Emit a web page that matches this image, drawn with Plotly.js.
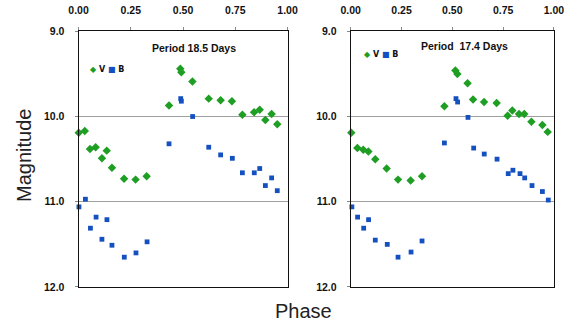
<!DOCTYPE html>
<html>
<head>
<meta charset="utf-8">
<script src="https://cdn.plot.ly/plotly-3.0.1.min.js"></script>
<style>html,body{margin:0;padding:0;background:#fff;}#chart{width:569px;height:324px;}</style>
</head>
<body>
<div id="chart"></div>
<script>
// Left panel: Period 18.5 days
const phaseV1 = [0.001,0.030,0.055,0.082,0.112,0.135,0.160,0.218,0.273,0.326,0.433,0.487,0.492,0.545,0.623,0.680,0.734,0.784,0.840,0.867,0.894,0.924,0.951];
const magV1   = [10.19,10.17,10.38,10.36,10.49,10.40,10.60,10.73,10.74,10.70,9.87,9.44,9.48,9.59,9.79,9.81,9.82,9.98,9.95,9.92,10.04,9.97,10.09];
const phaseB1 = [0.002,0.033,0.057,0.084,0.112,0.136,0.160,0.219,0.275,0.328,0.433,0.489,0.492,0.546,0.623,0.680,0.736,0.784,0.841,0.867,0.894,0.924,0.951];
const magB1   = [11.06,10.97,11.31,11.18,11.44,11.21,11.51,11.65,11.60,11.47,10.32,9.79,9.82,10.00,10.36,10.45,10.49,10.66,10.66,10.61,10.81,10.72,10.87];
// Right panel: Period 17.4 days
const phaseV2 = [0.003,0.033,0.062,0.087,0.121,0.177,0.233,0.295,0.351,0.461,0.515,0.525,0.575,0.602,0.656,0.718,0.772,0.795,0.828,0.854,0.889,0.943,0.969];
const magV2   = [10.19,10.37,10.39,10.41,10.50,10.61,10.74,10.75,10.70,9.88,9.46,9.50,9.61,9.80,9.83,9.84,9.99,9.93,9.97,9.97,10.06,10.10,10.18];
const phaseB2 = [0.006,0.034,0.064,0.088,0.121,0.180,0.233,0.297,0.351,0.461,0.518,0.526,0.577,0.605,0.657,0.720,0.775,0.798,0.833,0.856,0.892,0.943,0.972];
const magB2   = [11.06,11.18,11.31,11.21,11.45,11.50,11.65,11.59,11.46,10.31,9.79,9.83,10.01,10.37,10.44,10.50,10.67,10.63,10.67,10.72,10.81,10.88,10.98];

const xTickVals = [0, 0.25, 0.5, 0.75, 1.0];
const xTickText = ["0.00","0.25","0.50","0.75","1.00"];
const yTickVals = [9, 10, 11, 12];
const yTickText = ["9.0","10.0","11.0","12.0"];
const panelTitles = ["Period 18.5 Days", "Period\u00a0 17.4 Days"];

const GREEN = "#1e9e22";
const BLUE = "#1450c0";

function vTrace(x, y, xa, ya) {
  return {x: x, y: y, xaxis: xa, yaxis: ya, type: "scatter", mode: "markers", cliponaxis: false,
    marker: {symbol: "diamond", size: 6.5, color: GREEN}, showlegend: false};
}
function bTrace(x, y, xa, ya) {
  return {x: x, y: y, xaxis: xa, yaxis: ya, type: "scatter", mode: "markers", cliponaxis: false,
    marker: {symbol: "square", size: 4.8, color: BLUE}, showlegend: false};
}

const tickFont = {family: "Liberation Sans, Arial, sans-serif", size: 10.5, color: "#111", weight: "bold"};

function xAxis(domain, anchor) {
  return {domain: domain, anchor: anchor, range: [0, 1], side: "top", tickvals: xTickVals, ticktext: xTickText,
    showgrid: false, zeroline: false, showline: true, linecolor: "#111", linewidth: 1, mirror: true,
    ticks: "outside", ticklen: 3, tickcolor: "#888", tickfont: tickFont, ticklabelstandoff: 9};
}
function yAxis(anchor) {
  return {domain: [0.1142, 0.9034], anchor: anchor, range: [12, 9], tickvals: yTickVals, ticktext: yTickText,
    showgrid: true, gridcolor: "#a0a0a0", gridwidth: 1, zeroline: false, showline: true, linecolor: "#111",
    linewidth: 1, mirror: true, ticks: "outside", ticklen: 3, tickcolor: "#888", tickfont: tickFont,
    ticklabelstandoff: 8};
}

const data = [
  vTrace(phaseV1, magV1, "x", "y"), bTrace(phaseB1, magB1, "x", "y"),
  vTrace(phaseV2, magV2, "x2", "y2"), bTrace(phaseB2, magB2, "x2", "y2")
];

const legendText = '<span style="color:' + GREEN + '">◆</span> V <span style="color:' + BLUE + '">■</span> B';
const textFont = {family: "Liberation Sans, Arial, sans-serif", size: 10.5, color: "#111"};

const layout = {
  width: 569, height: 324,
  margin: {l: 0, r: 0, t: 0, b: 0},
  paper_bgcolor: "#fff", plot_bgcolor: "#fff",
  showlegend: false,
  xaxis: xAxis([0.138, 0.5053], "y"),
  yaxis: yAxis("x"),
  xaxis2: xAxis([0.6163, 0.9736], "y2"),
  yaxis2: yAxis("x2"),
  annotations: [
    {text: "<b>" + panelTitles[0] + "</b>", xref: "paper", yref: "paper", x: 194/569, y: 1 - 48/324,
      xanchor: "center", yanchor: "middle", showarrow: false, font: textFont},
    {text: "<b>" + panelTitles[1] + "</b>", xref: "paper", yref: "paper", x: 464/569, y: 1 - 46/324,
      xanchor: "center", yanchor: "middle", showarrow: false, font: textFont},
    {text: "<b>" + legendText + "</b>", xref: "paper", yref: "paper", x: 88/569, y: 1 - 69/324,
      xanchor: "left", yanchor: "middle", showarrow: false, font: {family: "DejaVu Sans, sans-serif", size: 8, color: "#111"}},
    {text: "<b>" + legendText + "</b>", xref: "paper", yref: "paper", x: 362/569, y: 1 - 55/324,
      xanchor: "left", yanchor: "middle", showarrow: false, font: {family: "DejaVu Sans, sans-serif", size: 8, color: "#111"}},
    {text: "Magnitude", xref: "paper", yref: "paper", x: 24/569, y: 1 - 156/324, textangle: -90,
      xanchor: "center", yanchor: "middle", showarrow: false, font: {family: "Liberation Sans, Arial, sans-serif", size: 20, color: "#222"}},
    {text: "Phase", xref: "paper", yref: "paper", x: 303/569, y: 1 - 311/324,
      xanchor: "center", yanchor: "middle", showarrow: false, font: {family: "Liberation Sans, Arial, sans-serif", size: 20, color: "#222"}}
  ]
};

Plotly.newPlot("chart", data, layout, {displayModeBar: false, staticPlot: true});
</script>
</body>
</html>
